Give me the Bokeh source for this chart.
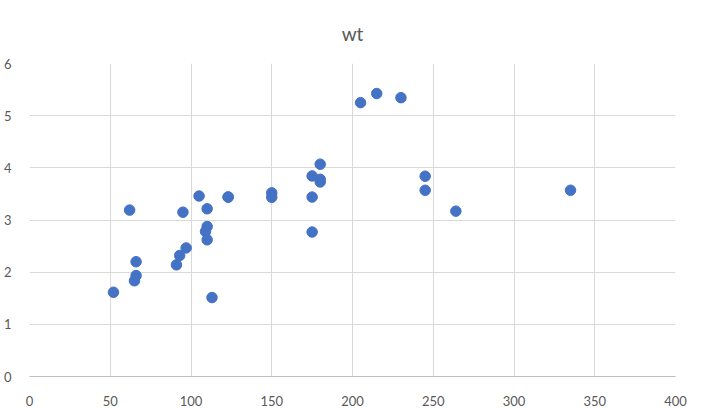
from bokeh.plotting import figure
from bokeh.models import FixedTicker, Range1d
from bokeh.embed import file_html
from bokeh.resources import INLINE

hp = [110, 110, 93, 110, 175, 105, 245, 62, 95, 123, 123, 180, 180, 180, 205, 215,
      230, 66, 52, 65, 97, 150, 150, 245, 175, 66, 91, 113, 264, 175, 335, 109]
wt = [2.620, 2.875, 2.320, 3.215, 3.440, 3.460, 3.570, 3.190, 3.150, 3.440, 3.440,
      4.070, 3.730, 3.780, 5.250, 5.424, 5.345, 2.200, 1.615, 1.835, 2.465, 3.520,
      3.435, 3.840, 3.845, 1.935, 2.140, 1.513, 3.170, 2.770, 3.570, 2.780]
title_text = "wt"
x_ticks = [0, 50, 100, 150, 200, 250, 300, 350, 400]
y_ticks = [0, 1, 2, 3, 4, 5, 6]

FONT = "Lato"
GRAY = "#595959"

p = figure(frame_width=646, frame_height=313, output_backend="svg", toolbar_location=None,
           x_range=Range1d(0, 400), y_range=Range1d(0, 6),
           min_border_left=21, min_border_right=18, min_border_top=63, min_border_bottom=20,
           title=title_text)
p.title.align = "center"
p.title.text_font = FONT
p.title.text_font_size = "19px"
p.title.text_font_style = "normal"
p.title.text_color = GRAY
p.title.standoff = 37
p.outline_line_color = None

p.scatter(hp, wt, size=10.5, color="#4472C4", line_color="#4472C4")

p.xaxis.ticker = FixedTicker(ticks=x_ticks)
p.yaxis.ticker = FixedTicker(ticks=y_ticks)
for ax in (p.xaxis, p.yaxis):
    ax.major_tick_line_color = None
    ax.minor_tick_line_color = None
    ax.major_label_text_font = FONT
    ax.major_label_text_font_size = "13px"
    ax.major_label_text_color = GRAY
p.xaxis.axis_line_color = "#bfbfbf"
p.yaxis.axis_line_color = None
p.xaxis.major_label_standoff = 13
p.yaxis.major_label_standoff = 12

p.xgrid.ticker = FixedTicker(ticks=x_ticks)
p.ygrid.ticker = FixedTicker(ticks=y_ticks)
p.grid.grid_line_color = "#d9d9d9"
p.grid.grid_line_width = 1

open("out.html", "w").write(file_html(p, INLINE))
